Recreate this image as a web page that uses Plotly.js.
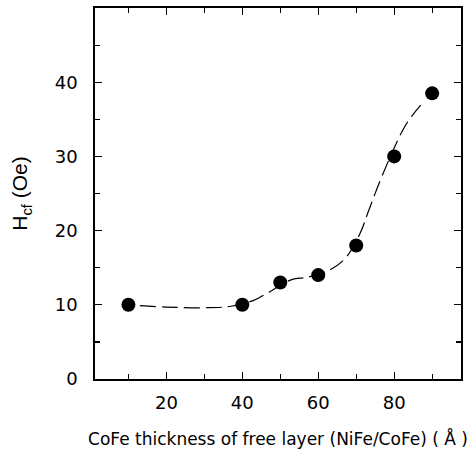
<!DOCTYPE html>
<html>
<head>
<meta charset="utf-8">
<script src="https://cdn.plot.ly/plotly-3.0.1.min.js"></script>
<style>
  html, body { margin: 0; padding: 0; background: #fff; }
  #chart { width: 472px; height: 454px; }
</style>
</head>
<body>
<div id="chart"></div>
<script>
// Measured coercivity of the free layer vs. CoFe thickness
const thickness = [10, 40, 50, 60, 70, 80, 90];          // Å
const hcf = [10, 10, 13, 14, 18, 30, 38.5];               // Oe

// Smooth guide-to-the-eye curve drawn through the data
const curveX = [13, 20, 30, 37, 43, 47, 53, 57, 63, 67, 71, 73, 77, 83, 87];
const curveY = [9.9, 9.7, 9.6, 9.8, 10.6, 11.7, 13.4, 13.7, 14.7, 16.2, 19.6, 22.3, 27.6, 34.2, 36.9];

const xTickVals = [20, 40, 60, 80];
const yTickVals = [0, 10, 20, 30, 40];

const font = 'DejaVu Sans, Verdana, sans-serif';

const traces = [
  {
    x: curveX, y: curveY,
    mode: 'lines',
    line: { color: '#000', width: 1.2, dash: '16px,6px', shape: 'spline', smoothing: 1 },
    hoverinfo: 'skip', showlegend: false
  },
  {
    x: thickness, y: hcf,
    mode: 'markers',
    marker: { color: '#000', size: 14 },
    showlegend: false
  }
];

const layout = {
  width: 472, height: 454,
  margin: { l: 95, r: 11, t: 8, b: 75 },
  paper_bgcolor: '#fff', plot_bgcolor: '#fff',
  font: { family: font, color: '#000', size: 16 },
  xaxis: {
    range: [1.2, 97.6],
    tickvals: xTickVals,
    ticks: 'inside', ticklen: 7, tickwidth: 1.3, tickcolor: '#000',
    minor: { dtick: 10, tick0: 0, ticks: 'inside', ticklen: 5, tickwidth: 1.2, tickcolor: '#000' },
    showline: true, linecolor: '#000', linewidth: 1.8, mirror: 'allticks',
    showgrid: false, zeroline: false,
    ticklabelstandoff: 7,
    tickfont: { size: 18, family: font },
    title: { text: 'CoFe thickness of free layer (NiFe/CoFe) ( Å )', font: { size: 17, family: font }, standoff: 21 }
  },
  yaxis: {
    range: [0, 50],
    tickvals: yTickVals,
    ticks: 'inside', ticklen: 7, tickwidth: 1.3, tickcolor: '#000',
    minor: { dtick: 5, tick0: 0, ticks: 'inside', ticklen: 5, tickwidth: 1.2, tickcolor: '#000' },
    showline: true, linecolor: '#000', linewidth: 1.8, mirror: 'allticks',
    showgrid: false, zeroline: false,
    ticklabelstandoff: 12,
    tickfont: { size: 18, family: font },
    title: { text: 'H<sub>cf</sub> (Oe)', font: { size: 21, family: 'Liberation Sans, Arial, sans-serif' }, standoff: 21 }
  }
};

Plotly.newPlot('chart', traces, layout, { staticPlot: true, displayModeBar: false });
</script>
</body>
</html>
